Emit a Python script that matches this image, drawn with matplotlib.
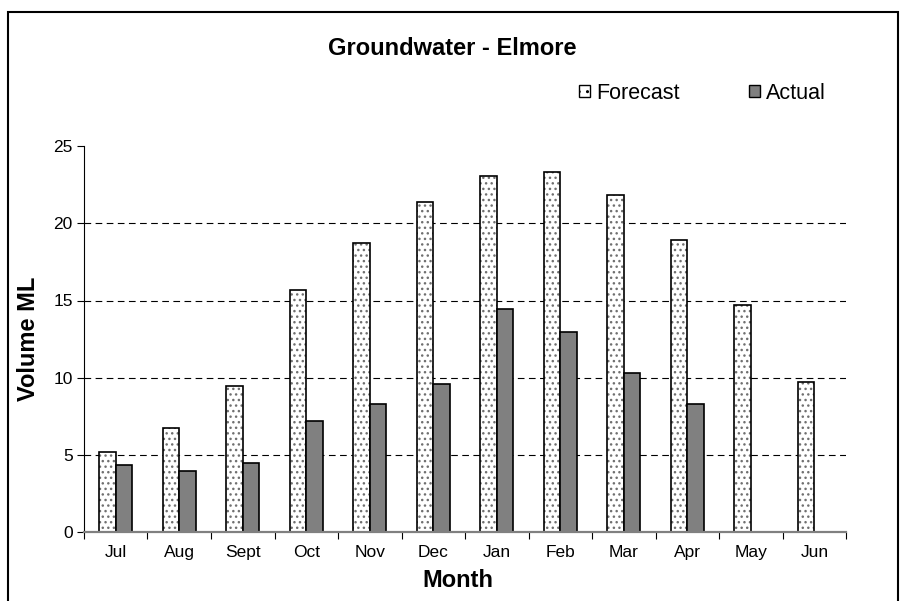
import matplotlib.pyplot as plt
from matplotlib.patches import Rectangle
import numpy as np

plt.rcParams['font.family'] = ['Liberation Sans', 'DejaVu Sans']

months = ["Jul", "Aug", "Sept", "Oct", "Nov", "Dec", "Jan", "Feb", "Mar", "Apr", "May", "Jun"]
forecast = [5.2, 6.75, 9.45, 15.65, 18.7, 21.4, 23.05, 23.3, 21.85, 18.9, 14.7, 9.7]
actual = [4.35, 3.95, 4.45, 7.2, 8.3, 9.6, 14.45, 12.95, 10.3, 8.3, np.nan, np.nan]

fig = plt.figure(figsize=(9.02, 6.01), dpi=100)
ax = fig.add_axes([0.0931, 0.1148, 0.845, 0.642])

x = np.arange(len(months))
w = 0.26

# dotted fill in grey, then a black outline on top
ax.bar(x - w/2, forecast, w, color="white", edgecolor="#707070", hatch="...", linewidth=0, zorder=3)
ax.bar(x - w/2, forecast, w, fill=False, edgecolor="black", linewidth=1.2, zorder=4)
ax.bar(x + w/2, actual, w, color="#808080", edgecolor="black", linewidth=1.2, zorder=4)

ax.set_xlim(-0.5, 11.5)
ax.set_ylim(0, 25)
ax.set_yticks([0, 5, 10, 15, 20, 25])
ax.tick_params(axis="y", length=5, width=0.8, labelsize=12.5, direction="out", pad=3)
ax.set_xticks(x)
ax.set_xticklabels(months, fontsize=12.5)
ax.tick_params(axis="x", which="major", length=0, pad=9)
ax.set_xticks(np.arange(-0.5, 12, 1), minor=True)
ax.tick_params(axis="x", which="minor", length=5, width=0.8, color="black")

for yv in [5, 10, 15, 20]:
    ax.axhline(yv, color="black", linestyle=(0, (6, 4)), linewidth=0.8, zorder=1)

for s in ["top", "right"]:
    ax.spines[s].set_visible(False)
ax.spines["left"].set_linewidth(0.8)
ax.spines["bottom"].set_color("#808080")
ax.spines["bottom"].set_linewidth(1.6)
ax.spines["bottom"].set_zorder(5)

ax.set_ylabel("Volume ML", fontsize=17, fontweight="bold", labelpad=9.5)
ax.set_xlabel("Month", fontsize=17, fontweight="bold", labelpad=7)
ax.xaxis.label.set_x(0.49)
fig.text(0.501, 0.92, "Groundwater - Elmore", ha="center", va="center", fontsize=17, fontweight="bold")

h1 = Rectangle((0, 0), 1, 1, facecolor="white", edgecolor="black", hatch="..", linewidth=1)
h2 = Rectangle((0, 0), 1, 1, facecolor="#808080", edgecolor="black", linewidth=1)
fig.legend([h1, h2], ["Forecast", "Actual"], loc="center", bbox_to_anchor=(0.779, 0.845),
           ncol=2, frameon=False, fontsize=15.5, handlelength=0.5, handleheight=0.5,
           handletextpad=0.3, columnspacing=3.2)

# outer chart border
fig.patches.append(Rectangle((8/902, -0.05), 890/902, 1.05 - 12/601, transform=fig.transFigure,
                             fill=False, edgecolor="black", linewidth=1.5))

fig.savefig("out.png", dpi=100)
